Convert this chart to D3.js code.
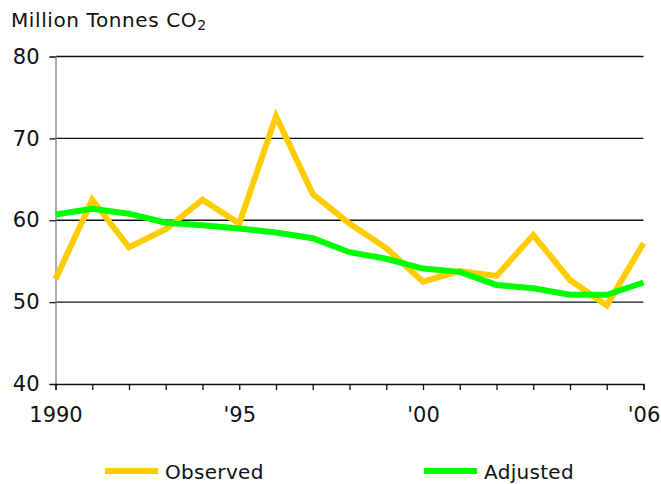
<!DOCTYPE html>
<html><head><meta charset="utf-8">
<script src="https://cdn.jsdelivr.net/npm/d3@7"></script>
<style>body{margin:0;background:#fff}svg{display:block}text{font-family:"DejaVu Sans",Verdana,sans-serif;fill:#111}</style>
</head><body><svg id="c" width="661" height="484"></svg>
<script>
const years = [1990,1991,1992,1993,1994,1995,1996,1997,1998,1999,2000,2001,2002,2003,2004,2005,2006];
const observed = [52.8,62.5,56.7,58.9,62.5,59.6,72.7,63.2,59.6,56.6,52.5,53.8,53.2,58.2,52.7,49.6,57.2];
const adjusted = [60.7,61.4,60.8,59.7,59.4,59.0,58.5,57.8,56.1,55.3,54.1,53.7,52.1,51.7,50.9,50.9,52.4];
const yTicks = [40,50,60,70,80];
const xTickLabels = {1990:"1990",1995:"'95",2000:"'00",2006:"'06"};
const seriesNames = ["Observed","Adjusted"];
const colors = ["#FFCC00","#00FF00"];

const svg = d3.select("#c");
const x = d3.scaleLinear().domain([1990,2006]).range([55.5,643.5]);
const y = d3.scaleLinear().domain([40,80]).range([384,56.5]);

// gridlines
svg.append("g").selectAll("line").data(yTicks.filter(v=>v>40)).join("line")
  .attr("x1",x(1990)).attr("x2",x(2006)).attr("y1",d=>y(d)).attr("y2",d=>y(d))
  .attr("stroke","#111").attr("stroke-width",1.3);

// y axis
const ya = svg.append("g").attr("transform",`translate(${x(1990)},0)`)
  .call(d3.axisLeft(y).tickValues(yTicks).tickSize(6).tickPadding(10).tickFormat(d3.format("d")));
ya.select(".domain").attr("stroke","#808080").attr("stroke-width",1.3);
ya.selectAll(".tick line").attr("stroke","#111").attr("stroke-width",1.3);
ya.selectAll("text").attr("font-size",21).attr("fill","#111").attr("font-family","DejaVu Sans");

// x axis
const xa = svg.append("g").attr("transform",`translate(0,${y(40)})`)
  .call(d3.axisBottom(x).tickValues(years).tickSize(6).tickFormat(d=>xTickLabels[d]||""));
xa.select(".domain").attr("stroke","#111").attr("stroke-width",1.3);
xa.selectAll(".tick line").attr("stroke","#111").attr("stroke-width",1.3);
xa.selectAll("text").attr("font-size",21).attr("fill","#111").attr("font-family","DejaVu Sans")
  .attr("y",38).attr("dy",0);

const line = d3.line().x((d,i)=>x(years[i])).y(d=>y(d));
[observed,adjusted].forEach((s,k)=>{
  svg.append("path").datum(s).attr("d",line).attr("fill","none")
    .attr("stroke",colors[k]).attr("stroke-width",6).attr("stroke-linejoin","miter");
});

// title
const t = svg.append("text").attr("x",11).attr("y",27).attr("font-size",20).attr("letter-spacing",0.6);
t.append("tspan").text("Million Tonnes CO");
t.append("tspan").attr("font-size",14).attr("dy",3).text("2");

// legend
const lx = [105,424];
seriesNames.forEach((n,k)=>{
  svg.append("line").attr("x1",lx[k]).attr("x2",lx[k]+53).attr("y1",471).attr("y2",471)
    .attr("stroke",colors[k]).attr("stroke-width",6);
  svg.append("text").attr("x",lx[k]+60).attr("y",479).attr("font-size",20).attr("letter-spacing",0.3).text(n);
});
</script></body></html>
